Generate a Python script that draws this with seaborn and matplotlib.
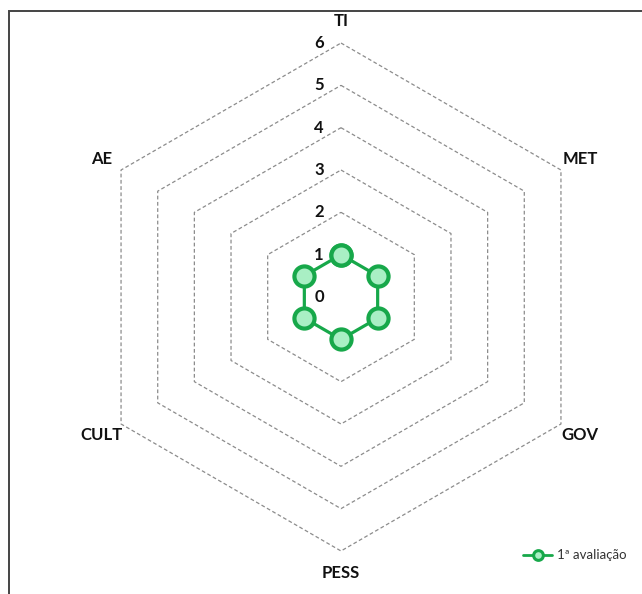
import numpy as np
import pandas as pd
import matplotlib
matplotlib.use('Agg')
import matplotlib.pyplot as plt
import seaborn as sns
from matplotlib.patches import Rectangle

# dados do radar
categorias = ['TI', 'MET', 'GOV', 'PESS', 'CULT', 'AE']
avaliacao_1 = [1, 1, 1, 1, 1, 1]
niveis = [0, 1, 2, 3, 4, 5, 6]
serie_nome = '1ª avaliação'

sns.set_style('white')
plt.rcParams['font.family'] = ['Lato', 'DejaVu Sans']

verde = '#17a84a'
verde_claro = '#a9efc4'

# angulos: TI no topo, sentido horario
n = len(categorias)
angulos = np.pi / 2 - np.arange(n) * 2 * np.pi / n

fig = plt.figure(figsize=(6.42, 5.94), dpi=100)
ax = fig.add_axes([0, 0, 1, 1])
unid = 42.33  # pixels por unidade
cx, cy = 341, 297
ax.set_xlim(-cx / unid, (642 - cx) / unid)
ax.set_ylim(-(594 - cy) / unid, cy / unid)
ax.axis('off')

# grade hexagonal tracejada
ang_fech = np.append(angulos, angulos[0])
for r in niveis[1:]:
    ax.plot(r * np.cos(ang_fech), r * np.sin(ang_fech), ls=(0, (3, 2)),
            color='#8c8c8c', lw=0.9, zorder=1)

# rotulos dos niveis
for r in niveis:
    ax.text(-22 / unid, r, str(r), ha='center', va='center', fontsize=12,
            fontweight='bold', color='#111111', zorder=4)

# rotulos das categorias
for cat, a in zip(categorias, angulos):
    ax.text(6.52 * np.cos(a), 6.52 * np.sin(a), cat, ha='center', va='center',
            fontsize=12, fontweight='bold', color='#111111')

# serie
vals = np.array(avaliacao_1 + avaliacao_1[:1], dtype=float)
df = pd.DataFrame({'x': vals * np.cos(ang_fech), 'y': vals * np.sin(ang_fech)})
sns.lineplot(data=df, x='x', y='y', sort=False, estimator=None, color=verde, lw=2.3,
             marker='o', markersize=14.5, markerfacecolor=verde_claro,
             markeredgecolor=verde, markeredgewidth=3, ax=ax, zorder=3)
ax.set_xlabel('')
ax.set_ylabel('')

# legenda
h = plt.Line2D([], [], color=verde, lw=2, marker='o', markersize=7,
               markerfacecolor=verde_claro, markeredgecolor=verde, markeredgewidth=2.2)
ax.legend([h], [serie_nome], loc='lower right', bbox_to_anchor=(0.995, 0.035),
          frameon=False, fontsize=9.5, handlelength=2.2, handletextpad=0.4,
          labelcolor='#333333')

# moldura
fig.patches.append(Rectangle((9 / 642, -0.1), 1.1, (594 - 11) / 594 + 0.1,
                             transform=fig.transFigure, fill=False,
                             edgecolor='#444444', lw=1.4))

fig.savefig('out.png', dpi=100)
